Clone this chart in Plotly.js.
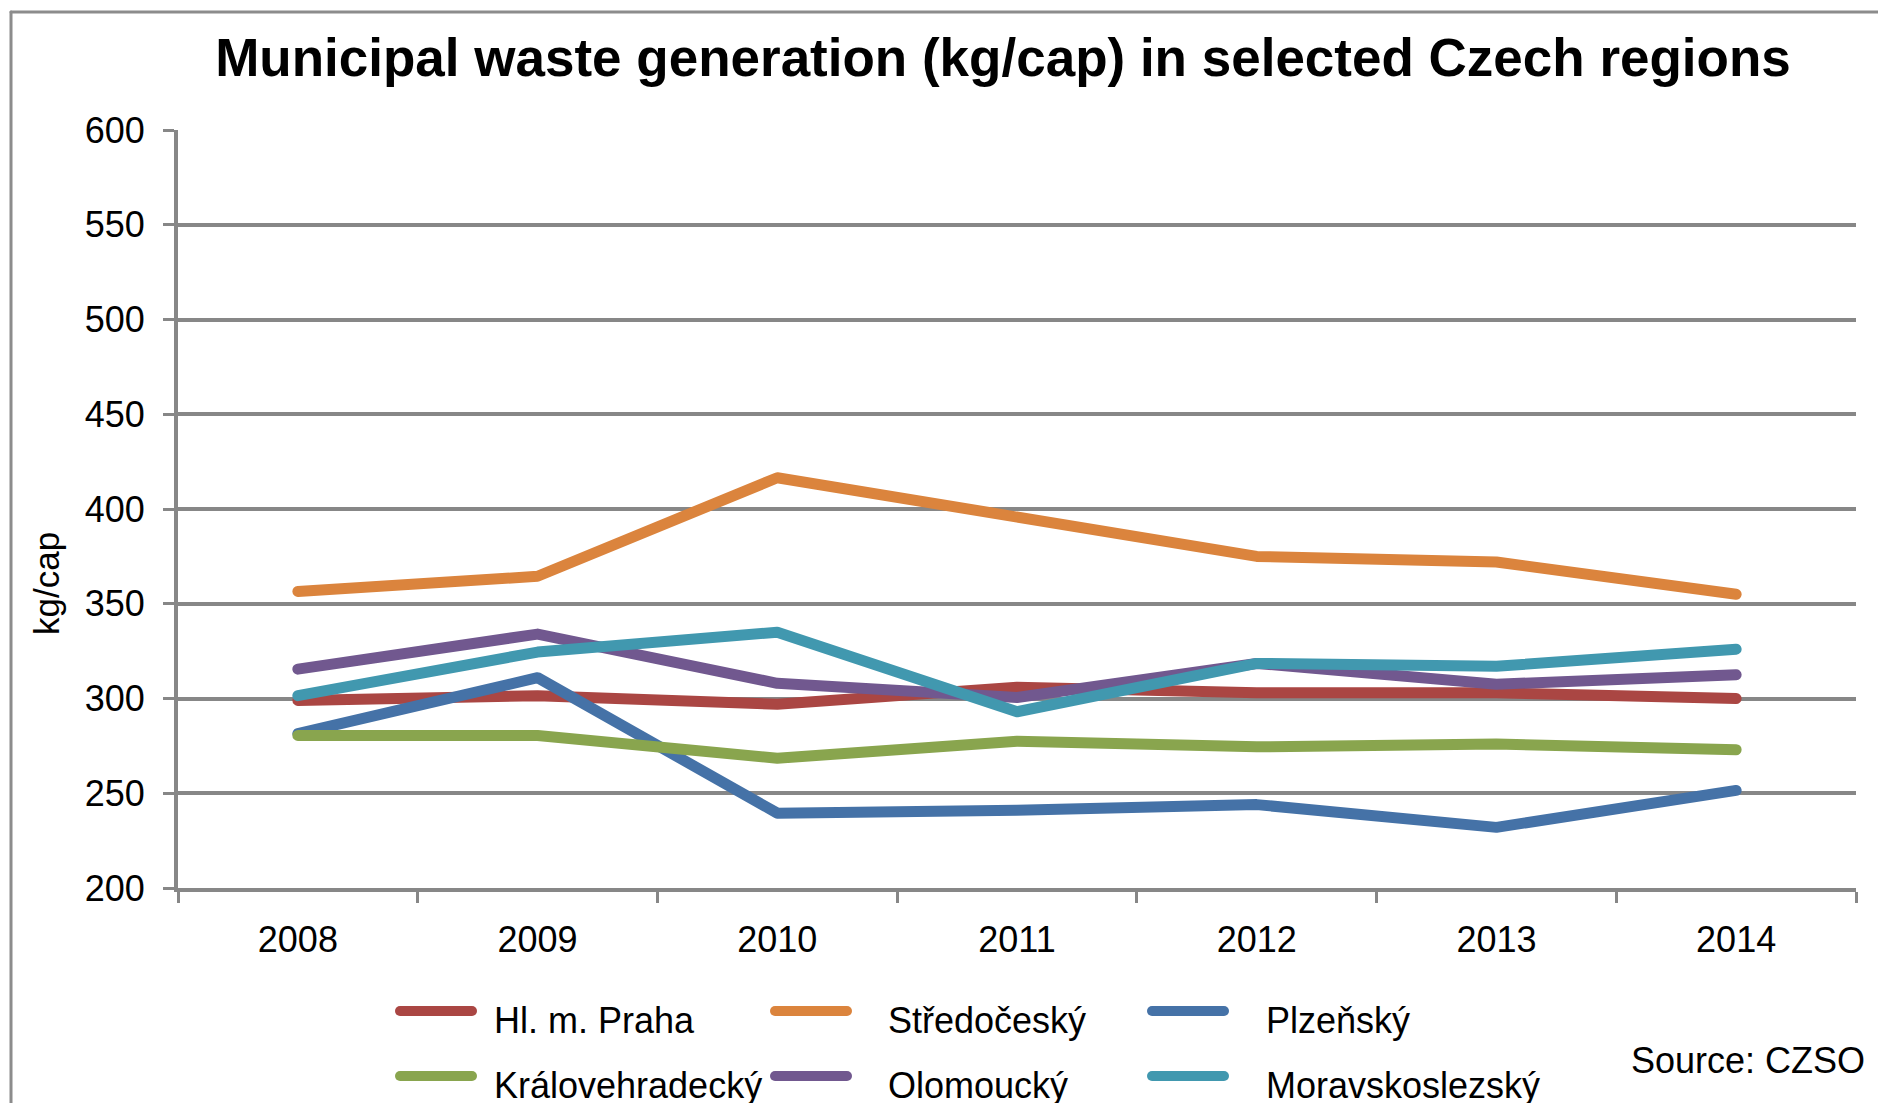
<!DOCTYPE html>
<html>
<head>
<meta charset="utf-8">
<script src="https://cdn.plot.ly/plotly-3.0.1.min.js"></script>
<style>
  html, body { margin: 0; padding: 0; background: #ffffff; }
  #chart { width: 1878px; height: 1103px; }
  .scatterlayer path.js-line { stroke-linecap: round; stroke-linejoin: round; }
  .shapelayer path { stroke-linecap: round; }
</style>
</head>
<body>
<div id="chart"></div>
<script>
// ---- data ----
const years = ["2008", "2009", "2010", "2011", "2012", "2013", "2014"];
const regionNames = ["Hl. m. Praha", "Středočeský", "Plzeňský", "Královehradecký", "Olomoucký", "Moravskoslezský"];
const praha = [299, 301.5, 297, 306, 303, 303, 300];
const stredocesky = [356.5, 364.5, 416.5, 395.5, 375, 372, 355];
const plzensky = [281.5, 311, 239.5, 241, 244, 232, 251.5];
const kralovehradecky = [280.5, 280.5, 268.5, 277.5, 274.5, 276, 273];
const olomoucky = [315.5, 334, 308, 300.5, 318.5, 307.5, 312.5];
const moravskoslezsky = [301.5, 324.5, 335, 293, 318.5, 317, 326];
const seriesValues = [praha, stredocesky, plzensky, kralovehradecky, olomoucky, moravskoslezsky];
const yTickValues = [200, 250, 300, 350, 400, 450, 500, 550, 600];
const titleText = "Municipal waste generation (kg/cap) in selected Czech regions";
const yTitleText = "kg/cap";
const sourceText = "Source: CZSO";

// ---- style ----
const colors = ["#AA4643", "#DB843D", "#4572A7", "#89A54E", "#71588F", "#4198AF"];
const FONT = "Liberation Sans, Arial, Helvetica, sans-serif";
const GRID = "#878787";
const FS = 36;

const W = 1878, H = 1103;
const M = { l: 178, r: 22, t: 130, b: 215 };
const PW = W - M.l - M.r, PH = H - M.t - M.b;
const px = x => (x - M.l) / PW;            // pixel -> paper x
const py = y => (H - M.b - y) / PH;        // pixel -> paper y

const traces = seriesValues.map((vals, i) => ({
  type: "scatter",
  mode: "lines",
  name: regionNames[i],
  x: years,
  y: vals,
  line: { color: colors[i], width: 11 },
  hoverinfo: "x+y+name",
  showlegend: false
}));

// custom legend (2 rows x 3 columns)
const legSymX = [400, 775, 1152];
const legTextX = [492, 886, 1264];
const legRowY = [1011, 1076];
const legTextDy = 9;
const symLen = 72;

const shapes = [
  // chart border (top + left)
  { type: "line", xref: "paper", yref: "paper", x0: px(11), x1: px(1890), y0: py(12), y1: py(12),
    line: { color: "#8C8C8C", width: 3 } },
  { type: "line", xref: "paper", yref: "paper", x0: px(11), x1: px(11), y0: py(12), y1: py(1115),
    line: { color: "#8C8C8C", width: 3 } }
];
const annotations = [
  { text: yTitleText, xref: "paper", yref: "paper", x: px(46), y: py(584), textangle: -90,
    showarrow: false, xanchor: "center", yanchor: "middle", font: { family: FONT, size: 35, color: "#000" } },
  { text: sourceText, xref: "paper", yref: "paper", x: px(1867), y: py(1060),
    showarrow: false, xanchor: "right", yanchor: "middle", font: { family: FONT, size: FS, color: "#000" } }
];
regionNames.forEach((nm, i) => {
  const r = Math.floor(i / 3), c = i % 3;
  shapes.push({ type: "line", xref: "paper", yref: "paper",
    x0: px(legSymX[c]), x1: px(legSymX[c] + symLen), y0: py(legRowY[r]), y1: py(legRowY[r]),
    line: { color: colors[i], width: 10 } });
  annotations.push({ text: nm, xref: "paper", yref: "paper",
    x: px(legTextX[c]), y: py(legRowY[r] + legTextDy), showarrow: false,
    xanchor: "left", yanchor: "middle", font: { family: FONT, size: FS, color: "#000" } });
});

const layout = {
  width: W, height: H,
  margin: M,
  paper_bgcolor: "#ffffff",
  plot_bgcolor: "#ffffff",
  showlegend: false,
  font: { family: FONT, size: FS, color: "#000" },
  title: {
    text: "<b>" + titleText + "</b>",
    xref: "container", yref: "container",
    x: 1003 / W, xanchor: "center",
    y: 1 - 57 / H, yanchor: "middle",
    font: { family: FONT, size: 53, color: "#000" }
  },
  xaxis: {
    type: "category",
    categoryorder: "array", categoryarray: years,
    range: [-0.5, years.length - 0.5],
    showgrid: false, zeroline: false,
    showline: true, linecolor: GRID, linewidth: 4,
    ticks: "outside", tickson: "boundaries", ticklen: 11, tickwidth: 3, tickcolor: GRID,
    ticklabelstandoff: 17,
    tickfont: { family: FONT, size: FS, color: "#000" },
    fixedrange: true
  },
  yaxis: {
    range: [200, 600],
    tickvals: yTickValues,
    ticktext: yTickValues.map(String),
    showgrid: true, gridcolor: GRID, gridwidth: 4,
    zeroline: false,
    showline: true, linecolor: GRID, linewidth: 4,
    ticks: "outside", ticklen: 11, tickwidth: 3, tickcolor: GRID,
    ticklabelstandoff: 11,
    tickfont: { family: FONT, size: FS, color: "#000" },
    fixedrange: true
  },
  shapes: shapes,
  annotations: annotations
};

Plotly.newPlot("chart", traces, layout, { displayModeBar: false, responsive: false });
</script>
</body>
</html>
